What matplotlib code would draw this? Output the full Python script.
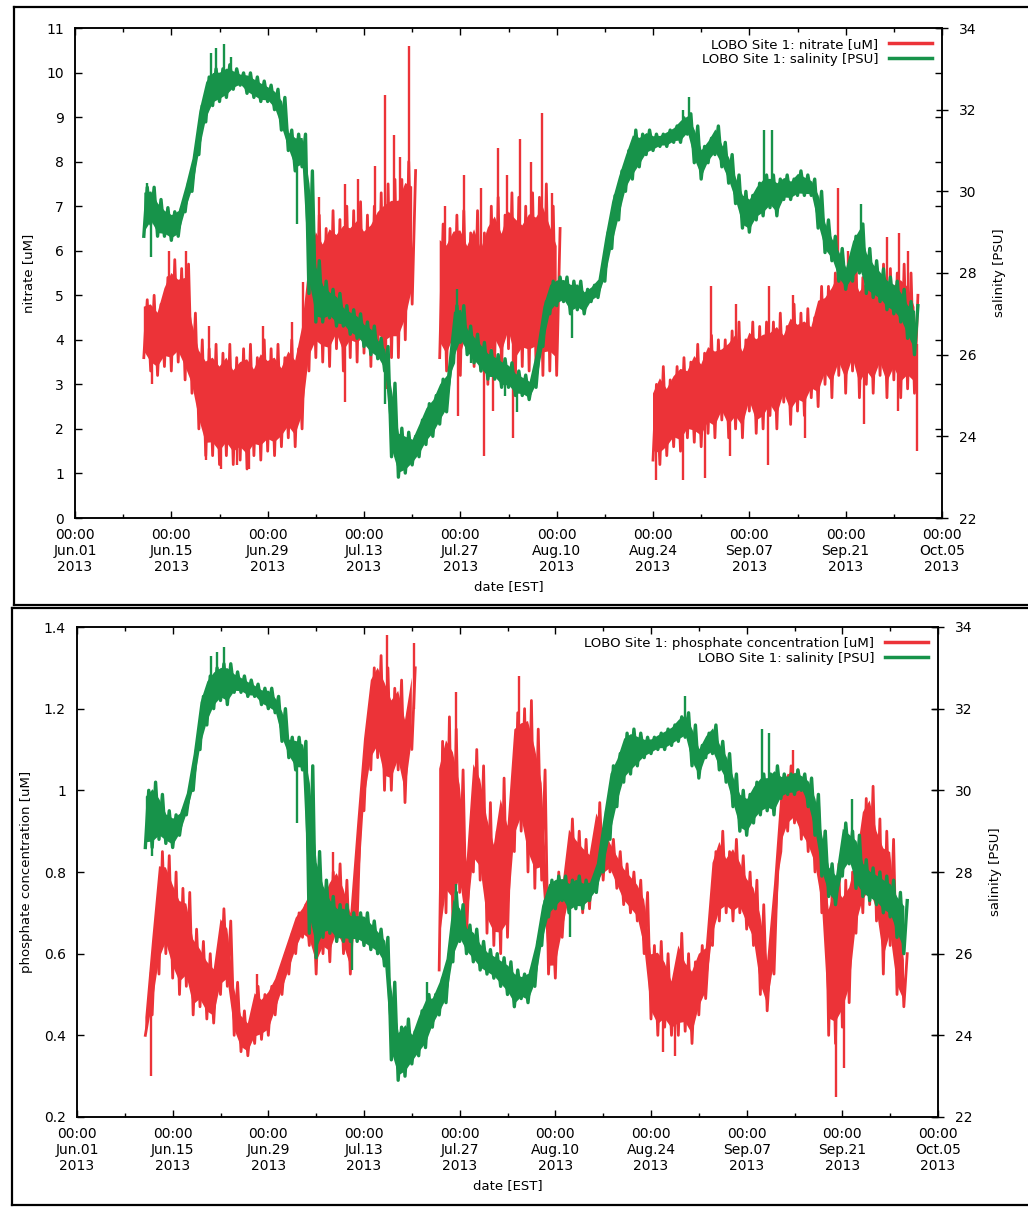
import datetime as dt
import numpy as np
import matplotlib
matplotlib.use("Agg")
import matplotlib.pyplot as plt
import matplotlib.dates as mdates
from matplotlib.ticker import FixedLocator, FuncFormatter
from matplotlib.lines import Line2D

plt.rcParams['font.family'] = ['DejaVu Sans']
plt.rcParams['path.simplify'] = False

nan = np.nan
START = dt.datetime(2013, 6, 1)
# day index (days since Jun 01 2013 00:00) shared by all series: 10 .. 122
days = list(range(10, 123))

# ---------------- top panel: nitrate [uM], daily band low / high ----------------
nitrate_lo = [3.6, 3.3, 3.2, 3.4, 3.3, 3.5, 3.1, 2.8, 2.0, 1.4,
              1.4, 1.2, 1.4, 1.2, 1.3, 1.1, 1.4, 1.3, 1.5, 1.4,
              1.6, 1.8, 1.6, 2.0, 3.3, 3.6, 3.5, 3.4, 3.8, 3.3,
              3.6, 3.5, 3.7, 3.4, 3.7, 3.5, 3.6, 3.6, 4.0, 4.8,
              nan, nan, nan, 3.6, 3.3, 3.7, 3.2, 3.9, 3.4, 3.3,
              3.0, 3.6, 3.3, 3.8, 3.1, 3.4, 3.3, 3.4, 3.2, 3.3,
              3.2, nan, nan, nan, nan, nan, nan, nan, nan, nan,
              nan, nan, nan, nan, 1.3, 1.2, 1.4, 1.6, 1.5, 1.8,
              1.7, 1.6, 1.9, 1.8, 2.2, 1.8, 2.0, 1.8, 2.4, 1.9,
              2.0, 2.3, 2.0, 2.6, 2.1, 2.4, 2.3, 2.7, 2.5, 3.0,
              2.7, 3.2, 2.8, 3.3, 2.7, 3.0, 2.8, 3.2, 2.7, 3.1,
              2.7, 2.9, 2.8]
nitrate_hi = [4.9, 5.0, 4.8, 5.4, 5.8, 5.6, 5.7, 4.6, 4.0, 3.8,
              3.9, 3.7, 3.9, 3.6, 3.8, 3.9, 3.6, 4.0, 3.8, 3.9,
              3.6, 4.0, 3.8, 4.6, 6.1, 6.8, 6.5, 6.9, 6.7, 7.0,
              6.9, 7.1, 6.8, 7.0, 7.3, 7.5, 7.6, 7.6, 8.0, 7.8,
              nan, nan, nan, 6.6, 6.5, 6.8, 6.9, 6.4, 6.9, 6.4,
              7.0, 7.2, 6.8, 7.3, 7.2, 7.0, 7.3, 7.2, 7.5, 7.0,
              6.5, nan, nan, nan, nan, nan, nan, nan, nan, nan,
              nan, nan, nan, nan, 3.0, 3.4, 3.1, 3.4, 3.6, 3.5,
              3.9, 3.7, 4.1, 4.0, 4.0, 4.2, 4.4, 4.0, 4.4, 4.3,
              4.4, 4.4, 4.6, 4.3, 4.8, 4.6, 4.7, 4.5, 5.2, 5.2,
              5.5, 5.8, 5.5, 5.8, 5.4, 5.6, 5.3, 5.7, 5.6, 5.5,
              5.7, 5.5, 5.0]
# isolated spikes (day, value)
nitrate_spike_day = [11.2, 13.6, 16.2, 19.0, 19.5, 21.2, 23.5, 25.3, 27.3, 31.5,
                     33.2, 35.5, 39.2, 39.3, 41.2, 43.6, 45.0, 45.2, 46.4, 47.3,
                     48.5, 53.7, 55.7, 56.6, 59.0, 59.5, 60.7, 61.5, 62.8, 63.7,
                     64.6, 66.3, 67.8, 69.3, 84.5, 88.3, 91.6, 92.5, 95.2, 96.0,
                     100.7, 100.9, 104.3, 106.1, 110.9, 112.3, 114.7, 118.0, 119.6, 119.8,
                     121.1, 122.3]
nitrate_spike_val = [3.0, 6.0, 6.0, 1.3, 4.3, 1.1, 1.2, 1.1, 4.3, 4.4,
                     5.3, 7.2, 2.6, 7.5, 7.6, 7.9, 9.5, 2.9, 8.6, 8.1,
                     10.6, 7.0, 2.3, 7.7, 7.4, 1.4, 2.4, 8.3, 7.7, 1.8,
                     8.5, 8.0, 9.1, 7.3, 0.85, 0.85, 0.9, 5.2, 1.4, 4.8,
                     1.2, 5.2, 5.0, 1.8, 7.4, 6.0, 2.1, 6.3, 2.4, 6.4,
                     6.0, 1.5]

# ---------------- top panel: salinity [PSU], daily band low / high ----------------
sal_top_lo = [28.9, 29.2, 28.9, 28.9, 28.8, 28.9, 29.5, 30.0, 30.9, 31.7,
              32.1, 32.2, 32.3, 32.5, 32.6, 32.4, 32.3, 32.2, 32.2, 32.0,
              31.5, 31.0, 30.5, 30.6, 27.5, 26.8, 26.8, 26.9, 26.7, 26.7,
              26.5, 26.4, 26.2, 26.0, 25.9, 25.6, 23.5, 23.0, 23.1, 23.3,
              23.5, 23.8, 24.0, 24.3, 24.6, 25.8, 26.3, 26.0, 25.8, 25.6,
              25.4, 25.4, 25.2, 25.2, 25.0, 25.0, 24.9, 25.2, 26.2, 27.0,
              27.2, 27.3, 27.0, 27.1, 27.0, 27.3, 27.4, 27.8, 28.6, 29.3,
              30.0, 30.3, 30.6, 30.9, 31.0, 31.1, 31.1, 31.2, 31.2, 31.4,
              30.7, 30.3, 30.7, 30.9, 30.6, 30.2, 29.7, 29.1, 29.0, 29.3,
              29.4, 29.6, 29.4, 29.8, 29.8, 29.9, 29.9, 29.9, 29.1, 28.5,
              28.3, 27.8, 27.6, 27.8, 28.0, 27.5, 27.4, 27.3, 27.1, 27.0,
              26.8, 26.4, 26.0]
sal_top_hi = [30.1, 30.1, 29.8, 29.6, 29.5, 29.6, 30.2, 30.9, 32.1, 32.8,
              33.0, 33.0, 33.1, 33.0, 32.9, 32.9, 32.8, 32.7, 32.6, 32.5,
              32.3, 31.5, 31.4, 31.4, 30.5, 28.3, 27.8, 27.6, 27.5, 27.2,
              27.1, 27.0, 26.8, 26.7, 26.4, 26.2, 25.3, 24.2, 24.1, 24.0,
              24.4, 24.8, 25.0, 25.4, 25.6, 27.2, 27.2, 26.7, 26.5, 26.3,
              26.1, 26.0, 25.9, 25.8, 25.6, 25.5, 25.4, 26.2, 27.3, 27.8,
              27.9, 27.9, 27.8, 27.8, 27.6, 27.7, 27.9, 29.0, 29.9, 30.5,
              31.0, 31.5, 31.4, 31.5, 31.4, 31.4, 31.5, 31.6, 31.8, 31.9,
              31.6, 31.1, 31.3, 31.6, 31.2, 30.9, 30.4, 30.0, 29.9, 30.2,
              30.4, 30.4, 30.3, 30.4, 30.3, 30.5, 30.4, 30.3, 30.0, 29.3,
              28.9, 28.6, 28.2, 28.9, 29.2, 28.6, 28.3, 28.1, 27.9, 27.8,
              27.6, 27.3, 27.2]
sal_top_spike_day = [10.5, 11.0, 19.7, 20.5, 21.6, 22.6, 32.2, 34.8, 45.0, 55.5,
                     57.5, 62.5, 64.3, 72.2, 88.3, 89.2, 100.2, 101.3, 114.2]
sal_top_spike_val = [30.2, 28.4, 33.4, 33.5, 33.6, 33.3, 29.2, 28.7, 24.8, 27.6,
                     25.8, 25.0, 24.6, 26.4, 32.0, 32.3, 31.5, 31.5, 29.7]

# ---------------- bottom panel: phosphate [uM], daily band low / high ----------------
phos_lo = [0.40, 0.45, 0.55, 0.60, 0.54, 0.50, 0.52, 0.45, 0.47, 0.44,
           0.43, 0.50, 0.52, 0.40, 0.36, 0.35, 0.38, 0.39, 0.40, 0.45,
           0.50, 0.55, 0.60, 0.64, 0.62, 0.55, 0.60, 0.58, 0.63, 0.60,
           0.55, 0.68, 0.95, 1.05, 1.08, 1.00, 1.00, 1.05, 0.97, 1.10,
           nan, nan, nan, 0.56, 0.70, 0.68, 0.75, 0.64, 0.80, 0.78,
           0.65, 0.62, 0.60, 0.64, 0.85, 0.90, 0.80, 0.76, 0.78, 0.55,
           0.54, 0.64, 0.71, 0.72, 0.70, 0.71, 0.75, 0.78, 0.80, 0.76,
           0.72, 0.70, 0.68, 0.60, 0.44, 0.40, 0.42, 0.40, 0.40, 0.41,
           0.38, 0.45, 0.49, 0.62, 0.68, 0.70, 0.68, 0.70, 0.66, 0.62,
           0.50, 0.46, 0.55, 0.85, 0.90, 0.92, 0.88, 0.85, 0.80, 0.70,
           0.40, 0.38, 0.42, 0.48, 0.65, 0.70, 0.72, 0.68, 0.55, 0.62,
           0.50, 0.47, nan]
phos_hi = [0.45, 0.66, 0.85, 0.84, 0.80, 0.76, 0.75, 0.66, 0.63, 0.60,
           0.58, 0.71, 0.68, 0.53, 0.46, 0.44, 0.52, 0.50, 0.52, 0.55,
           0.60, 0.65, 0.70, 0.72, 0.76, 0.80, 0.75, 0.80, 0.82, 0.78,
           0.72, 0.95, 1.15, 1.30, 1.33, 1.30, 1.25, 1.27, 1.20, 1.30,
           nan, nan, nan, 1.12, 1.18, 1.15, 1.05, 0.85, 1.10, 1.06,
           0.97, 0.90, 1.03, 0.95, 1.19, 1.20, 1.22, 1.15, 1.05, 0.72,
           0.80, 0.78, 0.93, 0.90, 0.88, 0.86, 0.97, 0.92, 0.88, 0.85,
           0.82, 0.80, 0.78, 0.75, 0.62, 0.63, 0.60, 0.55, 0.65, 0.60,
           0.58, 0.62, 0.63, 0.85, 0.90, 0.85, 0.88, 0.84, 0.80, 0.78,
           0.72, 0.60, 0.80, 1.02, 1.06, 1.05, 1.02, 1.00, 0.98, 0.90,
           0.75, 0.82, 0.78, 0.80, 0.85, 0.98, 1.01, 0.93, 0.90, 0.88,
           0.70, 0.60, nan]
phos_spike_day = [10.8, 26.3, 37.5, 45.3, 49.3, 55.4, 64.7, 85.8, 87.5, 104.8,
                  111.0, 112.2]
phos_spike_val = [0.30, 0.55, 0.85, 1.38, 1.36, 1.24, 1.28, 0.36, 0.35, 1.10,
                  0.25, 0.32]

# ---------------- bottom panel: salinity [PSU], daily band low / high ----------------
sal_bot_lo = [28.6, 28.6, 28.8, 28.7, 28.6, 28.9, 29.4, 30.0, 31.0, 31.6,
              32.0, 32.2, 32.1, 32.4, 32.4, 32.3, 32.3, 32.1, 32.0, 31.9,
              31.2, 30.8, 30.5, 30.5, 26.5, 25.9, 26.4, 26.5, 26.3, 26.3,
              26.3, 26.3, 26.2, 26.1, 26.0, 25.7, 23.4, 22.9, 23.0, 23.3,
              23.5, 23.7, 24.2, 24.5, 24.8, 25.8, 26.3, 26.0, 25.8, 25.6,
              25.5, 25.4, 25.2, 25.0, 24.7, 24.9, 24.8, 25.2, 26.2, 26.9,
              27.1, 27.3, 27.0, 27.1, 27.1, 27.3, 27.5, 28.0, 28.8, 29.6,
              30.2, 30.4, 30.6, 30.8, 30.9, 31.0, 31.0, 31.1, 31.2, 31.3,
              30.6, 30.3, 30.8, 30.9, 30.5, 30.2, 29.6, 29.0, 28.9, 29.2,
              29.4, 29.5, 29.4, 29.8, 29.9, 29.9, 30.0, 29.6, 28.9, 27.9,
              27.4, 27.2, 27.9, 28.2, 27.6, 27.4, 27.3, 27.2, 27.0, 26.9,
              26.4, 26.0, nan]
sal_bot_hi = [30.0, 30.2, 29.9, 29.5, 29.4, 29.5, 30.0, 31.0, 32.3, 32.8,
              33.0, 33.1, 33.1, 32.9, 32.8, 32.7, 32.6, 32.5, 32.5, 32.3,
              32.0, 31.3, 31.3, 31.2, 30.6, 28.5, 27.8, 27.4, 27.2, 27.2,
              27.0, 27.0, 27.0, 26.8, 26.6, 26.4, 25.3, 24.2, 24.4, 24.1,
              24.6, 25.0, 25.0, 25.4, 26.0, 27.5, 27.2, 26.7, 26.6, 26.3,
              26.1, 26.0, 25.9, 25.8, 25.6, 25.5, 25.6, 26.3, 27.3, 27.8,
              27.9, 27.9, 27.8, 27.9, 27.8, 27.8, 28.3, 29.5, 30.6, 30.9,
              31.4, 31.5, 31.4, 31.3, 31.3, 31.4, 31.5, 31.6, 31.8, 31.9,
              31.6, 31.1, 31.4, 31.6, 31.2, 30.9, 30.4, 30.0, 29.9, 30.2,
              30.4, 30.4, 30.6, 30.4, 30.4, 30.5, 30.4, 30.3, 29.9, 29.0,
              28.2, 28.0, 29.2, 29.0, 28.9, 28.3, 28.1, 28.0, 27.9, 27.8,
              27.5, 27.3, nan]
sal_bot_spike_day = [11.0, 19.6, 20.5, 21.5, 32.2, 40.3, 51.2, 55.4, 72.2, 89.0,
                     100.2, 101.2, 113.4]
sal_bot_spike_val = [28.4, 33.3, 33.4, 33.5, 29.2, 25.6, 25.3, 27.7, 26.4, 32.3,
                     31.5, 31.4, 29.8]

tick_days = list(range(0, 127, 14))
minor_days = list(range(7, 127, 14))

RED = '#ec3338'
GREEN = '#17934a'
BASE = mdates.date2num(START)


def draw_series(ax, lo, hi, spike_day, spike_val, color, zig_lw, core):
    x = BASE + np.array(days, dtype=float)
    lo = np.array(lo, dtype=float)
    hi = np.array(hi, dtype=float)
    # dense core of the trace
    rng = hi - lo
    ax.fill_between(x, lo + core * rng, hi - core * rng, color=color, lw=0)
    # individual samples swinging between the daily low and high
    zx, zy = [], []
    for xi, l, h in zip(x, lo, hi):
        zx += [xi, xi + 0.5]
        zy += [l, h]
    ax.plot(zx, zy, color=color, lw=zig_lw, solid_joinstyle='round')
    for d, v in zip(spike_day, spike_val):
        i = int(round(d)) - days[0]
        mid = 0.5 * (lo[i] + hi[i])
        ax.plot([BASE + d, BASE + d], [mid, v], color=color, lw=1.7,
                solid_capstyle='butt')


def date_label(x, pos):
    d = mdates.num2date(x)
    return d.strftime('%H:%M\n%b.%d\n%Y')


fig = plt.figure(figsize=(10.28, 12.07), dpi=100)
W, H = 1028.0, 1207.0


def make_panel(rect, y1lim, y1ticks, y1label, legend1, s1, s2):
    ax = fig.add_axes(rect)
    ax2 = ax.twinx()
    draw_series(ax, *s1, RED, 2.0, 0.12)
    draw_series(ax2, *s2, GREEN, 2.4, 0.1)
    ax.set_xlim(BASE, BASE + 126)
    ax.set_ylim(*y1lim)
    ax2.set_ylim(22, 34)
    ax.xaxis.set_major_locator(FixedLocator([BASE + d for d in tick_days]))
    ax.xaxis.set_minor_locator(FixedLocator([BASE + d for d in minor_days]))
    ax.xaxis.set_major_formatter(FuncFormatter(date_label))
    ax.set_yticks(y1ticks)
    ax.yaxis.set_major_formatter(FuncFormatter(lambda v, p: f'{v:g}'))
    ax2.set_yticks(list(range(22, 35, 2)))
    ax.tick_params(axis='both', which='major', direction='in', length=5, width=1,
                   top=True, right=True, labelsize=10, pad=8)
    ax.tick_params(axis='x', which='minor', direction='in', length=3, width=1, top=True)
    ax.tick_params(axis='x', which='major', pad=7)
    ax2.tick_params(axis='y', direction='inout', length=8, width=1, labelsize=10, pad=8)
    for a in (ax, ax2):
        for s in a.spines.values():
            s.set_linewidth(1.1)
    ax.set_xlabel('date [EST]', fontsize=9.5, labelpad=4)
    ax.set_ylabel(y1label, fontsize=9.5, labelpad=8)
    ax2.set_ylabel('salinity [PSU]', fontsize=9.5, rotation=90, labelpad=12)
    handles = [Line2D([], [], color=RED, lw=2.5), Line2D([], [], color=GREEN, lw=2.5)]
    ax2.legend(handles, [legend1, 'LOBO Site 1: salinity [PSU]'], loc='upper right',
               frameon=False, markerfirst=False, fontsize=9.5, handlelength=3.3,
               handletextpad=0.8, borderaxespad=0.35, labelspacing=0.15)
    return ax, ax2


make_panel([75 / W, 1 - 518 / H, 867 / W, 490 / H], (0, 11), list(range(0, 12)),
           'nitrate [uM]', 'LOBO Site 1: nitrate [uM]',
           (nitrate_lo, nitrate_hi, nitrate_spike_day, nitrate_spike_val),
           (sal_top_lo, sal_top_hi, sal_top_spike_day, sal_top_spike_val))

make_panel([77 / W, 1 - 1117 / H, 861 / W, 490 / H], (0.2, 1.4),
           [0.2, 0.4, 0.6, 0.8, 1.0, 1.2, 1.4],
           'phosphate concentration [uM]',
           'LOBO Site 1: phosphate concentration [uM]',
           (phos_lo, phos_hi, phos_spike_day, phos_spike_val),
           (sal_bot_lo, sal_bot_hi, sal_bot_spike_day, sal_bot_spike_val))

# scanned page frames around the two panels
for (x0, y0, y1) in [(14, 7, 605), (12, 608, 1205)]:
    fig.add_artist(Line2D([x0 / W, x0 / W], [1 - y0 / H, 1 - y1 / H],
                          transform=fig.transFigure, color='black', lw=1.6))
    fig.add_artist(Line2D([x0 / W, 1.0], [1 - y0 / H, 1 - y0 / H],
                          transform=fig.transFigure, color='black', lw=1.6))
    fig.add_artist(Line2D([x0 / W, 1.0], [1 - y1 / H, 1 - y1 / H],
                          transform=fig.transFigure, color='black', lw=1.6))

fig.savefig('out.png', dpi=100)
